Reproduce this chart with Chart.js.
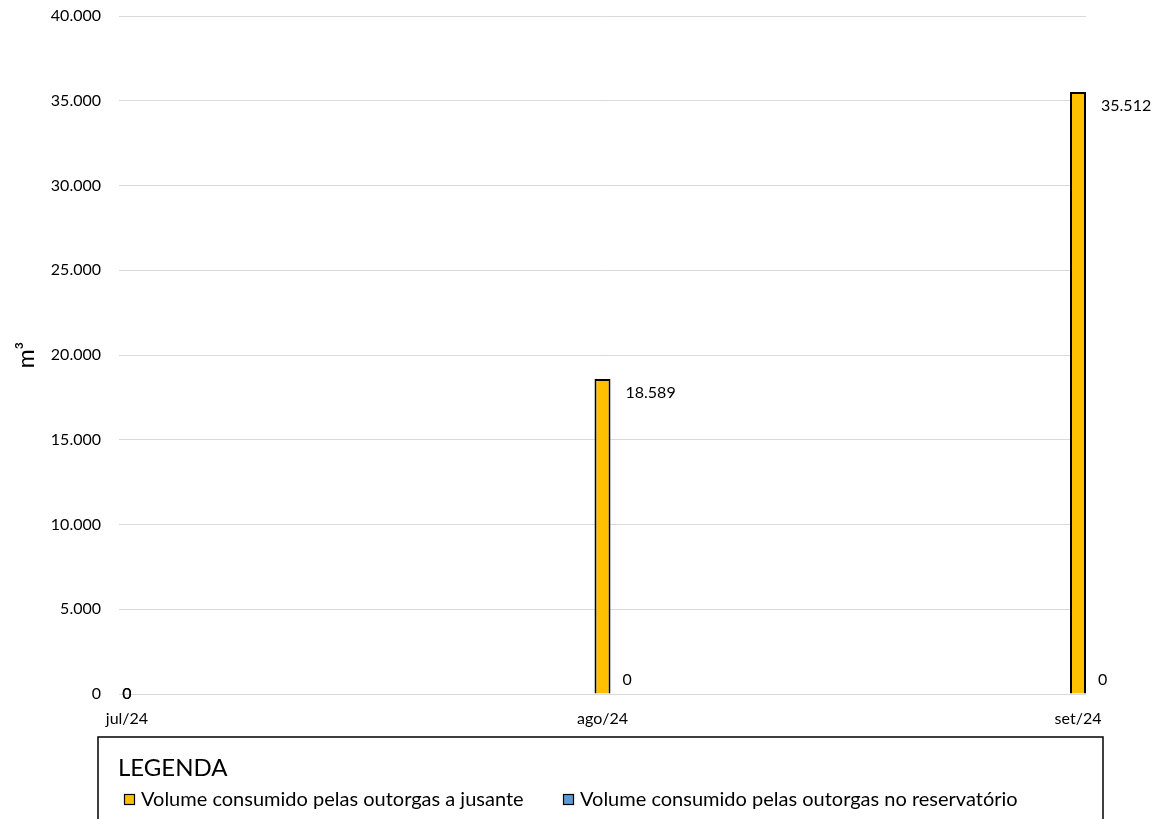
<!DOCTYPE html>
<html lang="pt-BR">
<head>
<meta charset="UTF-8">
<title>Volume consumido</title>
<script src="https://cdn.jsdelivr.net/npm/chart.js"></script>
<style>
  html, body { margin: 0; padding: 0; background: #fff; }
</style>
</head>
<body>
<canvas id="volumeChart" width="1165" height="819"></canvas>
<script>
    // data
    const months = ['jul/24', 'ago/24', 'set/24'];
    const jusante = [0, 18589, 35512];
    const reservatorio = [0, 0, 0];
    const seriesNames = [
        'Volume consumido pelas outorgas a jusante',
        'Volume consumido pelas outorgas no reservatório'
    ];
    const yMin = 0, yMax = 40000, yStep = 5000;

    // 40000 -> "40.000"
    function fmt(v) {
        return String(Math.round(v)).replace(/\B(?=(\d{3})+(?!\d))/g, '.');
    }

    Chart.defaults.font.family = 'Lato';
    Chart.defaults.color = '#000';

    // value labels beside the bars
    const valueLabels = {
        id: 'valueLabels',
        afterDatasetsDraw(chart) {
            const ctx = chart.ctx;
            const sets = chart.data.datasets;
            ctx.save();
            ctx.font = '16px Lato';
            ctx.fillStyle = '#000';
            ctx.textBaseline = 'middle';
            months.forEach((m, i) => {
                const anyValue = sets.some(d => d.data[i].y > 0);
                sets.forEach((d, di) => {
                    const bar = chart.getDatasetMeta(di).data[i];
                    const v = d.data[i].y;
                    if (!anyValue) {
                        ctx.textAlign = 'center';
                        ctx.fillText(fmt(v), bar.x, bar.y);
                    } else if (v > 0) {
                        ctx.textAlign = 'left';
                        ctx.fillText(fmt(v), bar.x + 23, bar.y + 14);
                    } else {
                        ctx.textAlign = 'left';
                        ctx.fillText(fmt(v), bar.x + 20, bar.base - 14);
                    }
                });
            });
            ctx.restore();
        }
    };

    // boxed legend at the bottom, two columns
    const legendBox = {
        id: 'legendBox',
        afterDraw(chart) {
            const ctx = chart.ctx;
            const left = 98, right = 1103, top = 737;
            ctx.save();
            ctx.strokeStyle = '#000';
            ctx.lineWidth = 1.5;
            ctx.strokeRect(left, top, right - left, chart.height - top + 20);

            ctx.fillStyle = '#000';
            ctx.textAlign = 'left';
            ctx.textBaseline = 'middle';
            ctx.font = '24px Lato';
            ctx.fillText('LEGENDA', left + 20, top + 31);

            ctx.font = '20px Lato';
            const cols = [left + 26, left + 465];
            const cy = top + 62;
            chart.data.datasets.forEach((d, i) => {
                const x = cols[i];
                ctx.fillStyle = d.backgroundColor;
                ctx.fillRect(x, cy - 5, 11, 11);
                ctx.strokeStyle = '#000';
                ctx.lineWidth = 1.2;
                ctx.strokeRect(x + 0.5, cy - 4.5, 10, 10);
                ctx.fillStyle = '#000';
                ctx.fillText(d.label, x + 17, cy + 1);
            });
            ctx.restore();
        }
    };

    const ctx = document.getElementById('volumeChart').getContext('2d');

    new Chart(ctx, {
        type: 'bar',
        data: {
            datasets: [{
                label: seriesNames[0],
                data: months.map((m, i) => ({ x: i, y: jusante[i] })),
                backgroundColor: '#FFC000',
                borderColor: '#000',
                borderWidth: 2
            }, {
                label: seriesNames[1],
                data: months.map((m, i) => ({ x: i, y: reservatorio[i] })),
                backgroundColor: '#5B9BD5',
                borderColor: '#000',
                borderWidth: 2
            }]
        },
        options: {
            responsive: false,
            animation: false,
            grouped: false,
            barThickness: 16,
            inflateAmount: 0,
            layout: {
                padding: { top: 16, right: 79, bottom: 82, left: 0 }
            },
            plugins: {
                legend: { display: false },
                tooltip: { enabled: false }
            },
            scales: {
                x: {
                    type: 'linear',
                    min: -0.0168,
                    max: 2.0168,
                    offset: false,
                    grid: { display: false, drawTicks: false },
                    border: { display: false },
                    afterBuildTicks: scale => {
                        scale.ticks = months.map((m, i) => ({ value: i }));
                    },
                    afterFit: scale => { scale.height = 43; },
                    ticks: {
                        callback: v => months[v],
                        autoSkip: false,
                        maxRotation: 0,
                        padding: 15,
                        font: { size: 16 }
                    }
                },
                y: {
                    min: yMin,
                    max: yMax,
                    grid: { color: '#d9d9d9', drawTicks: false },
                    border: { display: false },
                    afterFit: scale => {
                        scale.width = 119;
                        scale.paddingTop = 0;
                        scale.paddingBottom = 0;
                    },
                    ticks: {
                        stepSize: yStep,
                        padding: 18,
                        callback: v => fmt(v),
                        font: { size: 16 }
                    },
                    title: {
                        display: true,
                        text: 'm³',
                        font: { size: 23 },
                        padding: { top: 13, bottom: 0 }
                    }
                }
            }
        },
        plugins: [valueLabels, legendBox]
    });
</script>
</body>
</html>
